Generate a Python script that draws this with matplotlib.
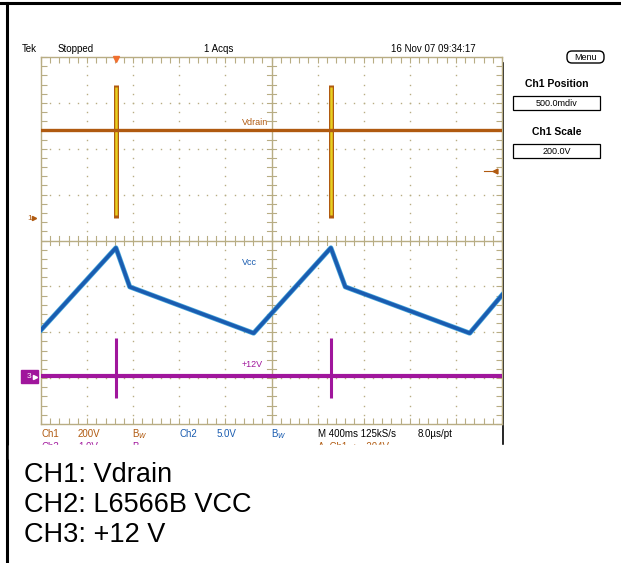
import matplotlib
matplotlib.use("Agg")
import matplotlib.pyplot as plt
from matplotlib.patches import Rectangle, FancyBboxPatch
import numpy as np

W, H = 621, 563
scope_font = ["Liberation Sans Narrow", "Liberation Sans", "DejaVu Sans"]
plt.rcParams["font.family"] = ["Liberation Sans", "DejaVu Sans"]

# --- data (time in ms, 400 ms/div, 10 div) ---
t_span = 4000
ch1_scale = 200.0      # V/div
ch1_pos = 0.5          # div
vdrain_time = [0, 4000]
vdrain_level = [380, 380]
vdrain_spike_t = [655, 2520]
vdrain_spike_lo = [0, 0]
vdrain_spike_hi = [580, 580]
trig_level = 204       # V

vcc_time = [0, 650, 770, 1845, 2515, 2640, 3720, 4000]
vcc_div = [-1.95, -0.16, -1.01, -2.02, -0.16, -1.01, -2.02, -1.19]

v12_time = [0, 4000]
v12_div = [-2.95, -2.95]
v12_spike_t = [655, 2520]
v12_spike_lo = [-3.43, -3.43]
v12_spike_hi = [-2.12, -2.12]

labels = ["CH1: Vdrain", "CH2: L6566B VCC", "CH3: +12 V"]

brown = "#b05a10"
yellow = "#e8d020"
blue = "#1a5cb0"
cyan = "#48a8dc"
purple = "#a0169c"
gridc = "#b8ad84"

fig = plt.figure(figsize=(W / 100, H / 100), dpi=100)

# page overlay in pixel coords
pg = fig.add_axes([0, 0, 1, 1])
pg.set_xlim(0, W)
pg.set_ylim(H, 0)
pg.axis("off")

pg.plot([0, W], [3, 3], color="black", lw=2.2)
pg.plot([7, 7], [3, H], color="black", lw=2.2)
pg.plot([503, 503], [63, 445], color="black", lw=1.2)

# scope grid axes
x0, x1, y0, y1 = 41, 502, 57, 424
ax = fig.add_axes([x0 / W, 1 - y1 / H, (x1 - x0) / W, (y1 - y0) / H])
ax.set_xlim(0, t_span)
ax.set_ylim(-4, 4)
ax.set_facecolor("none")
for s in ax.spines.values():
    s.set_color(gridc)
    s.set_linewidth(1.0)
ax.set_xticks([])
ax.set_yticks([])
ax.set_xticks(np.arange(0, t_span + 1, 80), minor=True)
ax.set_yticks(np.arange(-4, 4.01, 0.2), minor=True)
ax.tick_params(which="minor", direction="in", length=4, width=0.8, color=gridc,
               top=True, right=True, labelbottom=False, labelleft=False)

# dotted division lines
for k in range(1, 10):
    if k == 5:
        continue
    yy = np.arange(-4, 4.01, 0.2)
    ax.plot(np.full_like(yy, k * 400), yy, ls="none", marker="s", ms=1.0, color=gridc, mew=0)
for k in range(-3, 4):
    if k == 0:
        continue
    xx = np.arange(0, t_span + 1, 80)
    ax.plot(xx, np.full_like(xx, k, dtype=float), ls="none", marker="s", ms=1.0, color=gridc, mew=0)

# centre cross with ticks
ax.axvline(2000, color=gridc, lw=1.0)
ax.axhline(0, color=gridc, lw=1.0)
for yy in np.arange(-4, 4.01, 0.2):
    ax.plot([2000 - 40, 2000 + 40], [yy, yy], color=gridc, lw=0.8)
for xx in np.arange(0, t_span + 1, 80):
    ax.plot([xx, xx], [-0.09, 0.09], color=gridc, lw=0.8)

# Ch1 Vdrain
vd = ch1_pos + np.array(vdrain_level) / ch1_scale
ax.plot(vdrain_time, vd, color=brown, lw=2.4, zorder=5)
for t, lo, hi in zip(vdrain_spike_t, vdrain_spike_lo, vdrain_spike_hi):
    ax.plot([t, t], [ch1_pos + lo / ch1_scale, ch1_pos + hi / ch1_scale],
            color=brown, lw=3.6, zorder=4, solid_capstyle="butt")
    ax.plot([t, t], [ch1_pos + lo / ch1_scale + 0.05, ch1_pos + hi / ch1_scale - 0.05],
            color=yellow, lw=1.8, zorder=4, solid_capstyle="butt")

# Ch2 Vcc
ax.plot(vcc_time, vcc_div, color=cyan, lw=3.6, zorder=5)
ax.plot(vcc_time, vcc_div, color=blue, lw=2.6, zorder=6)

# Ch3 +12V
ax.plot(v12_time, v12_div, color=purple, lw=3.0, zorder=5)
for t, lo, hi in zip(v12_spike_t, v12_spike_lo, v12_spike_hi):
    ax.plot([t, t], [lo, hi], color=purple, lw=2.2, zorder=5, solid_capstyle="butt")

# trace labels
ax.text(1970, ch1_pos + vdrain_level[0] / ch1_scale + 0.08, "Vdrain", color=brown,
        fontsize=6.5, family=scope_font, ha="right", va="bottom")
ax.text(1875, -0.47, "Vcc", color=blue, fontsize=6.5, family=scope_font,
        ha="right", va="center")
ax.text(1920, v12_div[0] + 0.15, "+12V", color=purple, fontsize=6.5,
        family=scope_font, ha="right", va="bottom")

# trigger markers
ax.plot([vdrain_spike_t[0]], [3.95], marker="v", ms=5, color="#f07030", clip_on=False, zorder=7)
ax.plot([t_span - 60], [ch1_pos + trig_level / ch1_scale], marker="<", ms=3.5,
        color=brown, clip_on=False, zorder=7)
ax.plot([t_span - 160, t_span - 60], [ch1_pos + trig_level / ch1_scale] * 2,
        color=brown, lw=0.8, clip_on=False)

# channel ground markers (left)
pg.text(27, 218, "1", fontsize=6, family=scope_font, color=brown, ha="left", va="center")
pg.plot([34], [218], marker=">", ms=3, color=brown)
pg.add_patch(Rectangle((21, 370), 17, 13, color=purple, zorder=3))
pg.text(27, 377, "3", fontsize=6, family=scope_font, color="white", ha="left", va="center", zorder=4)
pg.plot([35], [377], marker=">", ms=3, color="white", zorder=4)

# header
hdr_y = 49
pg.text(22, hdr_y, "Tek", fontsize=7, family=scope_font, va="center")
pg.text(58, hdr_y, "Stopped", fontsize=7, family=scope_font, va="center")
pg.text(219, hdr_y, "1 Acqs", fontsize=7, family=scope_font, va="center", ha="center")
pg.text(433, hdr_y, "16 Nov 07 09:34:17", fontsize=7, family=scope_font, va="center", ha="center")

# right-hand menu
pg.add_patch(FancyBboxPatch((567, 51), 37, 12, boxstyle="round,pad=0,rounding_size=5",
                            fc="white", ec="black", lw=1.0))
pg.text(585.5, 57.5, "Menu", fontsize=6.5, family=scope_font, ha="center", va="center")
pg.text(557, 84, "Ch1 Position", fontsize=7.5, family=scope_font, weight="bold",
        ha="center", va="center")
pg.add_patch(Rectangle((513, 96), 87, 14, fc="white", ec="black", lw=0.9))
pg.text(556.5, 103, "500.0mdiv", fontsize=6.5, family=scope_font, ha="center", va="center")
pg.text(557, 132, "Ch1 Scale", fontsize=7.5, family=scope_font, weight="bold",
        ha="center", va="center")
pg.add_patch(Rectangle((513, 144), 87, 14, fc="white", ec="black", lw=0.9))
pg.text(556.5, 151, "200.0V", fontsize=6.5, family=scope_font, ha="center", va="center")

# readout rows
r1 = 434
readout = [(41, "Ch1", brown), (78, "200V", brown), (132, "B$_W$", brown),
           (180, "Ch2", blue), (217, "5.0V", blue), (271, "B$_W$", blue),
           (318, "M 400ms 125kS/s", "black"), (418, "8.0\u00b5s/pt", "black")]
for x, s, c in readout:
    pg.text(x, r1, s, fontsize=7, family=scope_font, color=c, va="center")
r2 = 447
readout2 = [(41, "Ch3", purple), (78, "1.0V", purple), (132, "B$_W$", purple),
            (318, "A  Ch1  \u2198  204V", brown)]
for x, s, c in readout2:
    pg.text(x, r2, s, fontsize=7, family=scope_font, color=c, va="center", zorder=1)
pg.add_patch(Rectangle((9, 445), W - 9, 14, color="white", zorder=2))

# channel legend
for i, s in enumerate(labels):
    pg.text(24, 482 + 30 * i, s, fontsize=19.5, va="baseline", ha="left")

plt.savefig("out.png", dpi=100)
